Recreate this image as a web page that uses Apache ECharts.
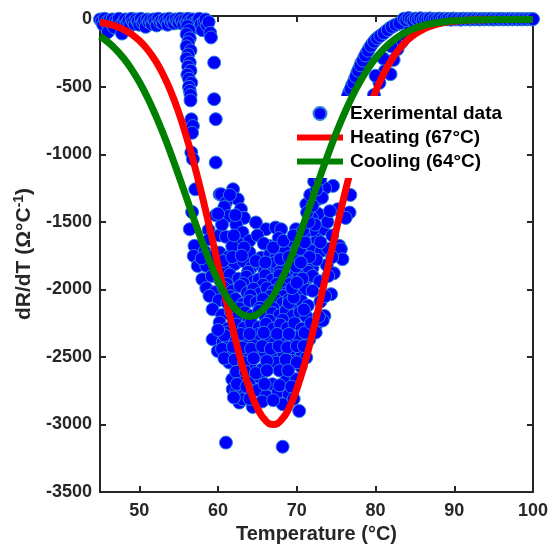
<!DOCTYPE html>
<html>
<head>
<meta charset="utf-8">
<script src="https://cdn.jsdelivr.net/npm/echarts@6/dist/echarts.min.js"></script>
<style>html,body{margin:0;padding:0;background:#fff}#c{width:551px;height:545px}</style>
</head>
<body>
<div id="c"></div>
<script>
// ---- axis ticks ----
const xTicks = [50, 60, 70, 80, 90, 100];
const yTicks = [-3500, -3000, -2500, -2000, -1500, -1000, -500, 0];

// ---- fitted curves ----
const curveT = [45,46,47,48,49,50,51,52,53,54,55,56,57,58,59,60,61,62,63,64,65,66,67,68,69,70,71,72,73,74,75,76,77,78,79,80,81,82,83,84,85,86,87,88,89,90,91,92,93,94,95,96,97,98,99,100];
const heating = [-21,-33,-51,-75,-110,-157,-220,-302,-406,-535,-690,-873,-1081,-1313,-1562,-1820,-2078,-2324,-2548,-2737,-2880,-2969,-3000,-2969,-2880,-2737,-2548,-2324,-2078,-1820,-1562,-1313,-1081,-873,-690,-535,-406,-302,-220,-157,-110,-75,-51,-33,-21,-14,-8,-5,-3,-2,-1,0,0,0,0,0];
const cooling = [-125,-168,-222,-288,-369,-464,-575,-702,-842,-995,-1157,-1324,-1491,-1653,-1804,-1938,-2048,-2131,-2183,-2200,-2183,-2131,-2048,-1938,-1804,-1653,-1491,-1324,-1157,-995,-842,-702,-575,-464,-369,-288,-222,-168,-125,-92,-66,-47,-33,-23,-15,-10,-7,-4,-3,-2,-1,0,0,0,0,0];

// ---- experimental data [T, dR/dT] ----
const baseLeft = [[45,0],[45.2,-15],[45.4,-40],[45.6,5],[45.8,-20],[46,-95],[46.2,-5],[46.4,-30],[46.6,0],[46.8,-60],[47,-10],[47.2,-25],[47.4,5],[47.6,-45],[47.8,-105],[48,-15],[48.2,0],[48.4,-30],[48.6,-10],[48.8,-50],[49,5],[49.2,-20],[49.4,-35],[49.6,0],[49.8,-15],[50,-40],[50.2,5],[50.4,-25],[50.6,-10],[50.8,-55],[51,0],[51.2,-20],[51.4,-5],[51.6,-35],[51.8,0],[52,-15],[52.2,-45],[52.4,5],[52.6,-20],[52.8,-10],[53,-30],[53.2,0],[53.4,-15],[53.6,-40],[53.8,5],[54,-20],[54.2,-5],[54.4,-30],[54.6,0],[54.8,-15],[55,-25],[55.2,5],[55.4,-10],[55.6,-35],[55.8,0],[56,-20],[56.2,5],[56.4,-15],[56.6,-40],[56.8,0],[57,-25],[57.2,-60],[57.4,-10],[57.6,5],[57.8,-35],[58,-80],[58.2,-15],[58.4,0],[58.6,-45],[58.8,-20],[59,-100]];
const columnA = [[56.1,-50],[56.3,-80],[56.0,-110],[56.4,-140],[56.2,-170],[56.0,-200],[56.5,-230],[56.2,-260],[56.0,-290],[56.4,-320],[56.2,-350],[56.5,-380],[56.1,-410],[56.3,-440],[56.6,-470],[56.3,-500],[56.4,-530],[56.5,-560],[56.5,-600],[56.6,-740],[56.8,-790],[56.7,-840],[56.6,-985],[56.8,-1035],[57.1,-1258]];
const columnB = [[59.1,-134],[59.5,-320],[59.5,-591],[59.7,-739],[59.7,-1060],[60.2,-1295]];
const cloud = [
[60.4,-1295],[61.9,-1258],[62.5,-1332],[61.0,-1356],[60.8,-1390],[62.9,-1406],
[56.7,-1427],[61.4,-1456],[63.3,-1470],[64.8,-1504],[76.7,-1430],[75.2,-1406],[74.6,-1233],[71.2,-1369],
[62.3,-1520],[63.1,-1578],[66.1,-1554],[67.3,-1541],[68.0,-1554],[69.9,-1554],[73.3,-1554],[76.2,-1470],[58.8,-1560],
[56.4,-1554],[57.0,-1677],[58.9,-1628],[60.2,-1600],[62.7,-1665],[64.0,-1640],[66.5,-1678],[67.7,-1620],[69.05,-1653],[70.5,-1610],[71.6,-1660],[72.6,-1630],[75.4,-1677],[74.5,-1600],
[56.9,-1752],[58.3,-1720],[60.2,-1727],[61.3,-1760],[62.4,-1710],[64.0,-1727],[65.5,-1764],[66.6,-1740],[67.4,-1752],[68.5,-1720],[69.6,-1760],[70.7,-1735],[71.8,-1715],[73.1,-1715],[75.6,-1702],[75.8,-1776],
[57.4,-1826],[58.5,-1826],[59.7,-1800],[60.9,-1840],[62.1,-1813],[63.2,-1790],[64.2,-1838],[65.3,-1810],[66.4,-1845],[67.3,-1800],[68.2,-1830],[69.2,-1810],[70.2,-1850],[71.0,-1800],[72.0,-1840],[73.8,-1820],
[61.0,-1870],[63.8,-1870],[65.9,-1865],[67.8,-1870],[69.9,-1880],[71.5,-1870],
[58.0,-1924],[59.2,-1900],[60.3,-1935],[61.5,-1890],[62.6,-1920],[63.6,-1905],[64.5,-1940],[65.2,-1924],[66.0,-1895],[66.8,-1930],[67.8,-1895],[68.6,-1915],[69.5,-1945],[70.3,-1900],[71.2,-1925],[72.0,-1900],[72.9,-1940],[74.7,-1880],
[61.1,-1960],[63.2,-1955],[65.7,-1965],[67.4,-1960],[69.1,-1960],[70.8,-1960],
[58.5,-1990],[59.6,-2020],[60.7,-1985],[61.8,-2010],[62.8,-1975],[63.7,-2025],[64.5,-1995],[65.3,-2030],[66.2,-1990],[67.0,-2015],[67.9,-1980],[68.7,-2025],[69.5,-1995],[70.3,-2030],[71.1,-2000],[72.0,-2010],[74.35,-2035],
[61.5,-2050],[64.1,-2045],[66.6,-2050],[68.3,-2050],[70.0,-2055],
[58.9,-2048],[60.1,-2080],[61.2,-2100],[62.2,-2070],[63.1,-2110],[64.0,-2085],[64.9,-2095],[65.7,-2070],[66.6,-2110],[67.4,-2080],[68.2,-2100],[69.0,-2075],[69.8,-2110],[70.6,-2085],[71.4,-2120],[73.0,-2090],
[62.7,-2140],[65.3,-2135],[67.0,-2140],[68.8,-2140],
[59.3,-2147],[60.5,-2190],[61.6,-2165],[62.5,-2200],[63.4,-2170],[64.3,-2195],[65.2,-2160],[66.0,-2200],[66.9,-2175],[67.8,-2190],[68.6,-2160],[69.5,-2195],[70.4,-2170],[71.2,-2200],[73.5,-2196],
[63.9,-2225],[66.5,-2230],[68.2,-2225],
[60.2,-2245],[61.2,-2290],[62.3,-2260],[63.3,-2285],[64.2,-2250],[65.2,-2280],[66.1,-2255],[67.0,-2290],[67.9,-2260],[68.8,-2285],[69.7,-2250],[70.6,-2290],[72.4,-2270],[73.3,-2230],
[59.3,-2369],[60.6,-2390],[61.2,-2319],[62.2,-2380],[63.4,-2355],[64.6,-2395],[65.2,-2330],[66.3,-2360],[67.1,-2400],[68.2,-2369],[69.3,-2385],[70.3,-2350],[71.6,-2369],[72.4,-2319],
[59.95,-2456],[61.3,-2480],[62.6,-2470],[63.7,-2500],[64.8,-2493],[65.9,-2460],[67.1,-2490],[68.3,-2470],[69.5,-2495],[70.6,-2465],[71.2,-2504],
[61.4,-2541],[62.9,-2575],[64.1,-2550],[65.6,-2591],[67.4,-2541],[67.8,-2600],[69.5,-2530],[70.5,-2570],
[61.8,-2665],[62.9,-2640],[64.0,-2678],[65.3,-2650],[66.9,-2702],[68.6,-2678],[69.9,-2665],
[61.85,-2739],[62.3,-2760],[63.4,-2770],[65.0,-2745],[66.1,-2789],[67.6,-2760],[69.0,-2780],
[62.7,-2838],[63.1,-2813],[64.4,-2870],[68.2,-2850],[70.3,-2900],
[61.0,-3134],[68.2,-3165]
];
const cloudFill = [
[61.0,-1610],[61.8,-1680],[63.3,-1690],[65.0,-1600],[65.8,-1660],[67.0,-1690],[68.3,-1640],[69.6,-1600],[70.0,-1700],[72.0,-1560],[74.0,-1700],[73.9,-1500],[72.7,-1440],[59.7,-1450],[60.5,-1520],[62.0,-1600],[60.0,-1440],[62.2,-1450],[61.5,-1300],
[57.9,-1770],[59.2,-1760],[60.6,-1790],[61.8,-1760],[63.0,-1750],[64.8,-1790],[66.0,-1800],[67.9,-1775],[69.0,-1760],[70.3,-1780],[71.3,-1760],[72.5,-1780],[74.5,-1760],
[60.8,-2340],[62.9,-2330],[64.0,-2330],[65.8,-2320],[67.5,-2330],[69.0,-2330],[71.0,-2320],[60.0,-2300],
[60.5,-2440],[61.9,-2425],[63.1,-2430],[64.2,-2440],[65.6,-2420],[66.7,-2440],[67.7,-2420],[68.8,-2430],[70.0,-2420],[70.9,-2420],
[60.8,-2510],[62.1,-2520],[63.3,-2540],[64.5,-2510],[66.2,-2530],[68.6,-2520],[70.0,-2540],
[62.3,-2610],[63.5,-2610],[64.8,-2620],[66.2,-2600],[68.9,-2600],
[62.4,-2700],[63.6,-2720],[65.9,-2700],[67.8,-2710],[69.3,-2720],
[62.0,-2800],[64.0,-2810],[65.6,-2830],[67.0,-2820],[69.6,-2810],
[70.2,-1750],[70.9,-1590],[71.9,-1470],[72.7,-1330],[73.6,-1250],[73.2,-1320],[72.3,-1520],[71.6,-1760],[70.7,-1920],[70.9,-2150],[71.8,-2250],[72.8,-2200],[73.6,-2050],[74.0,-1900],[73.0,-1650],[74.2,-1420]
];
const riseRight = [
[69.0,-2100],[69.6,-2060],[69.4,-1990],[70.0,-1950],[69.9,-1830],[70.5,-1800],[70.4,-1700],[71.0,-1650],[70.8,-1560],[71.5,-1500],[71.3,-1430],[72.0,-1380],[71.7,-1300],[72.5,-1260],[72.2,-1200],[73.0,-1180],[73.4,-1100],[73.8,-1030],[74.3,-950],[74.9,-850],[75.5,-760],
[75.9,-645],[76.3,-592],[76.65,-540],[77.0,-490],[77.35,-444],[77.65,-400],[77.95,-360],[78.2,-321],[78.55,-285],[78.85,-250],[79.2,-214],[79.6,-180],[80.0,-150],[80.4,-130],[80.8,-114],[81.3,-90],[81.8,-65],[82.3,-48],[82.8,-35],[83.3,-22],
[76.1,-620],[76.5,-565],[76.85,-515],[77.2,-470],[77.5,-425],[77.8,-380],[78.1,-340],[78.4,-305],[78.7,-268],[79.05,-232],[79.4,-197],[79.8,-165],[80.2,-140],[80.6,-122],[81.05,-102],[81.55,-78],[82.05,-56],[82.55,-40],[83.05,-28],
[79.8,-560],[80.5,-470],[81.2,-380],[81.9,-406],[80.0,-418],[82.3,-300],[81.0,-290],[82.8,-220],[83.3,-170],[82.0,-200],[83.8,-120],[84.4,-80],[85.0,-55],[85.7,-35],[86.5,-20],
[76.8,-1300],[77.2,-1100],[78.0,-900],[78.6,-760],[79.0,-650]
];
const baseRight = [[83.6,5],[83.9,-5],[84.2,10],[84.5,0],[84.8,-8],[85.1,6],[85.4,0],[85.7,8],[86.0,-4],[86.3,5],[86.6,0],[86.9,7],[87.2,-3],[87.5,4],[87.8,0],[88.1,6],[88.4,-2],[88.7,5],[89.0,0],[89.3,4],[89.6,-2],[89.9,6],[90.2,0],[90.5,3],[90.8,-2],[91.1,5],[91.4,0],[91.7,4],[92.0,-1],[92.3,5],[92.6,0],[92.9,3],[93.2,-1],[93.5,4],[93.8,0],[94.1,3],[94.4,0],[94.7,4],[95.0,-1],[95.3,3],[95.6,0],[95.9,4],[96.2,0],[96.5,3],[96.8,0],[97.1,4],[97.4,0],[97.7,3],[98.0,0],[98.3,3],[98.6,0],[98.9,3],[99.2,0],[99.5,3],[99.8,0],[100,2]];

const FONT = '"Liberation Sans", Arial, Helvetica, sans-serif';
const AX = '#262626';
const expData = [].concat(baseLeft, columnA, columnB, cloud, cloudFill, riseRight, baseRight);

const chart = echarts.init(document.getElementById('c'), null, {renderer: 'canvas'});
const axisCommon = {
  type: 'value',
  axisLine: {show: true, onZero: false, lineStyle: {color: AX, width: 2}},
  splitLine: {show: false},
};
const lineIcon = 'path://M0,0 L46,0 L46,6 L0,6 Z';
chart.setOption({
  animation: false,
  backgroundColor: '#fff',
  grid: {left: 100, right: 18, top: 16, bottom: 53, containLabel: false, outerBoundsMode: 'none'},
  xAxis: [
    Object.assign({}, axisCommon, {
      position: 'bottom', min: 45, max: 100,
      axisTick: {show: true, inside: true, length: 6, lineStyle: {color: AX, width: 2}, customValues: xTicks},
      axisLabel: {show: true, customValues: xTicks, margin: 10, color: AX, fontSize: 18, fontWeight: 'bold', fontFamily: FONT},
      name: 'Temperature (°C)', nameLocation: 'middle', nameGap: 31,
      nameTextStyle: {color: AX, fontSize: 20, fontWeight: 'bold', fontFamily: FONT}
    }),
    Object.assign({}, axisCommon, {
      position: 'top', min: 45, max: 100,
      axisTick: {show: true, inside: true, length: 6, lineStyle: {color: AX, width: 2}, customValues: xTicks},
      axisLabel: {show: false}
    })
  ],
  yAxis: [
    Object.assign({}, axisCommon, {
      position: 'left', min: -3500, max: 25,
      axisTick: {show: true, inside: true, length: 6, lineStyle: {color: AX, width: 2}, customValues: yTicks},
      axisLabel: {show: true, customValues: yTicks, margin: 8, color: AX, fontSize: 18, fontWeight: 'bold', fontFamily: FONT,
        formatter: (v) => String(v)},
      name: '{a|dR/dT (Ω°C}{s|-1}{a|)}', nameLocation: 'middle', nameGap: 62,
      nameTextStyle: {color: AX, fontFamily: FONT, rich: {
        a: {fontSize: 21, fontWeight: 'bold', color: AX, fontFamily: FONT, lineHeight: 25},
        s: {fontSize: 14, fontWeight: 'bold', color: AX, fontFamily: FONT, verticalAlign: 'top', lineHeight: 14}
      }}
    }),
    Object.assign({}, axisCommon, {
      position: 'right', min: -3500, max: 25,
      axisTick: {show: true, inside: true, length: 6, lineStyle: {color: AX, width: 2}, customValues: yTicks},
      axisLabel: {show: false}
    })
  ],
  legend: {
    orient: 'vertical', left: 287, top: 96,
    backgroundColor: '#fff', padding: [8, 8, 7, 10],
    itemWidth: 46, itemHeight: 13, itemGap: 5,
    textStyle: {fontSize: 19, fontWeight: 'bold', color: '#000', fontFamily: FONT, padding: [0, 0, 0, 2]},
    data: [
      {name: 'Exerimental data', icon: 'circle'},
      {name: 'Heating (67°C)', icon: lineIcon},
      {name: 'Cooling (64°C)', icon: lineIcon}
    ]
  },
  series: [
    {
      name: 'Exerimental data', type: 'scatter', data: expData,
      symbol: 'circle', symbolSize: 13, clip: false,
      itemStyle: {color: '#0000ff', borderColor: '#2b80d8', borderWidth: 1, opacity: 1},
      emphasis: {disabled: true}, z: 2
    },
    {
      name: 'Heating (67°C)', type: 'line', data: curveT.map((t, i) => [t, heating[i]]),
      smooth: true, symbol: 'none', clip: false,
      lineStyle: {color: '#ff0000', width: 7}, itemStyle: {color: '#ff0000'}, z: 3
    },
    {
      name: 'Cooling (64°C)', type: 'line', data: curveT.map((t, i) => [t, cooling[i]]),
      smooth: true, symbol: 'none', clip: false,
      lineStyle: {color: '#008000', width: 7}, itemStyle: {color: '#008000'}, z: 4
    }
  ]
});
</script>
</body>
</html>
